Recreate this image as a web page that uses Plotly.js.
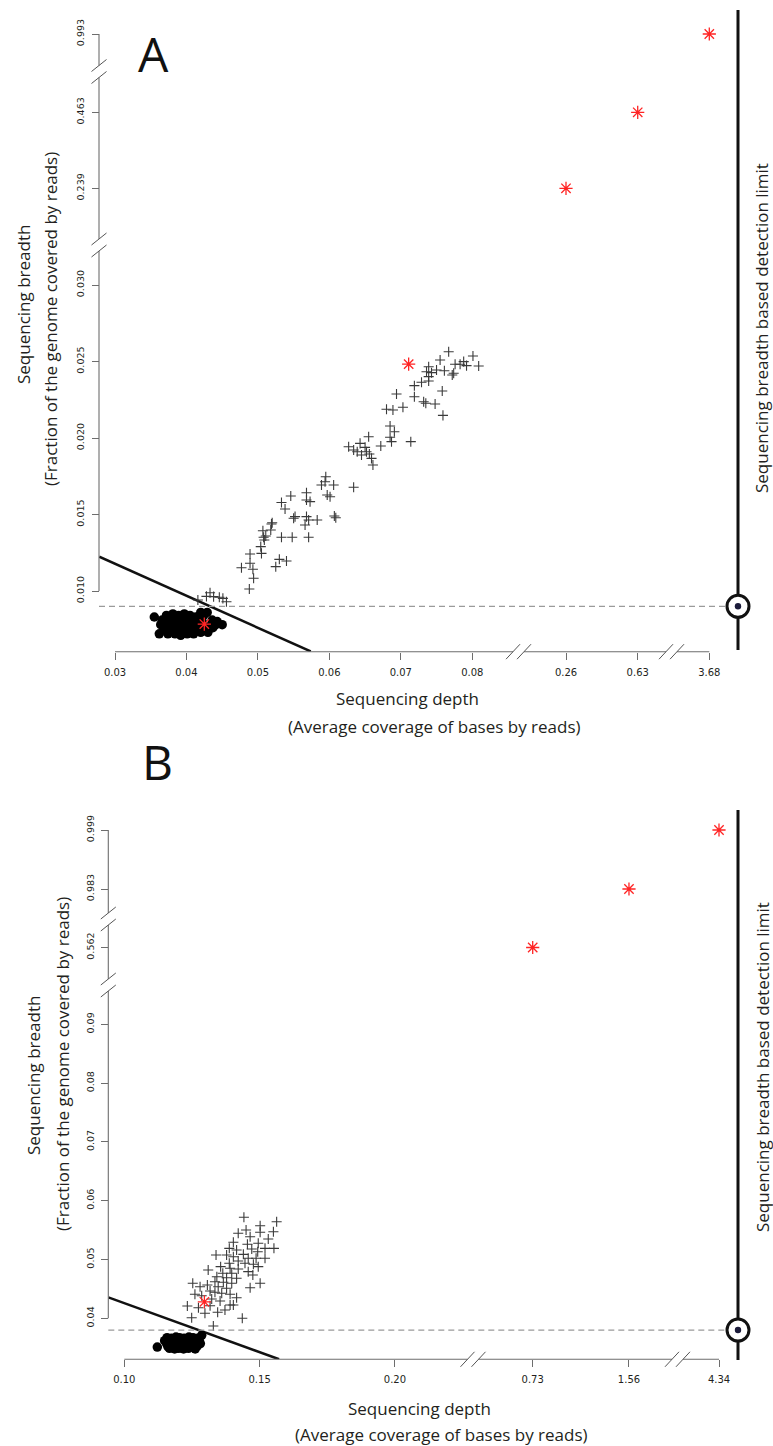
<!DOCTYPE html>
<html><head><meta charset="utf-8">
<script src="https://cdn.plot.ly/plotly-3.0.1.min.js"></script>
<style>html,body{margin:0;padding:0;background:#fff}#chart{width:773px;height:1446px}</style>
</head><body><div id="chart"></div>
<script>
// ================= DATA =================
// Panel A
const A_circle_x = [0.0355,0.0362,0.0450,0.0429,
  0.0372,0.0381,0.0389,0.0397,0.0405,0.0413,0.0424,0.0420,
  0.0366,0.0375,0.0383,0.0391,0.0399,0.0407,0.0415,0.0422,0.0436,0.0443,
  0.0364,0.0372,0.0380,0.0388,0.0395,0.0403,0.0411,0.0419,0.0433,0.0441,
  0.0369,0.0377,0.0385,0.0393,0.0400,0.0408,0.0416,0.0427,0.0437,
  0.0374,0.0384,0.0392,0.0401,0.0410,0.0420,0.0430];
const A_circle_y = [0.0083,0.0072,0.0078,0.0086,
  0.0084,0.0085,0.0084,0.0085,0.0084,0.0083,0.0084,0.0086,
  0.0081,0.0080,0.0082,0.0081,0.0080,0.0081,0.0082,0.0080,0.0081,0.0080,
  0.0078,0.0077,0.0078,0.0079,0.0077,0.0078,0.0077,0.0078,0.0077,0.0078,
  0.0075,0.0074,0.0075,0.0076,0.0074,0.0075,0.0074,0.0075,0.0076,
  0.0072,0.0072,0.0071,0.0072,0.0072,0.0073,0.0073];
const A_cross_x = [0.0767,0.0801,0.0755,0.0788,0.0776,0.0783,0.0792,0.0809,0.0739,0.0750,
  0.0761,0.0736,0.0743,0.0774,0.0772,0.0739,0.0729,0.0739,0.0719,0.0758,
  0.0694,0.0719,0.0732,0.0735,0.0748,0.0703,0.0680,0.0689,0.0759,0.0685,
  0.0691,0.0655,0.0685,0.0687,0.0714,0.0643,0.0627,0.0672,0.0650,0.0634,
  0.0639,0.0652,0.0645,0.0656,0.0659,0.0661,0.0595,0.0589,0.0606,0.0634,
  0.0594,0.0597,0.0601,0.0568,0.0568,0.0573,0.0546,0.0533,0.0538,0.0552,
  0.0550,0.0568,0.0571,0.0583,0.0607,0.0609,0.0520,0.0518,0.0507,0.0508,
  0.0533,0.0548,0.0571,0.0504,0.0505,0.0489,0.0489,0.0477,0.0493,0.0494,
  0.0488,0.0530,0.0540,0.0525,0.0509,0.0511,0.0519,0.0566,
  0.0416,0.0428,0.0433,0.0438,0.0446,0.0451,0.0456];
const A_cross_y = [0.02564,0.02536,0.02510,0.02499,0.02482,0.02482,0.02473,0.02471,0.02466,0.02444,
  0.02440,0.02433,0.02427,0.02423,0.02412,0.02401,0.02364,0.02373,0.02342,0.02307,
  0.02288,0.02270,0.02237,0.02227,0.02222,0.02201,0.02188,0.02183,0.02148,0.02078,
  0.02041,0.02008,0.02005,0.01976,0.01976,0.01965,0.01943,0.01948,0.01939,0.01922,
  0.01910,0.01910,0.01889,0.01895,0.01867,0.01824,0.01747,0.01693,0.01693,0.01678,
  0.01714,0.01627,0.01616,0.01642,0.01595,0.01584,0.01621,0.01578,0.01536,0.01486,
  0.01475,0.01486,0.01464,0.01464,0.01490,0.01479,0.01446,0.01399,0.01394,0.01351,
  0.01351,0.01351,0.01351,0.01290,0.01246,0.01242,0.01181,0.01152,0.01142,0.01083,
  0.01013,0.01207,0.01196,0.01159,0.01333,0.01359,0.01438,0.01431,
  0.00941,0.00965,0.00989,0.00963,0.00959,0.00952,0.00930];
const A_star_x = [0.0425, 0.0711, 0.26, 0.63, 3.68];
const A_star_y = [0.00784, 0.02483, 0.239, 0.463, 0.993];
const A_fit_x = [0.0278, 0.0574];
const A_fit_y = [0.01224, 0.00605];
const A_limit = 0.009;
const A_xticks = [[0.03,0.04,0.05,0.06,0.07,0.08],[0.26,0.63],[3.68]];
const A_yticks = [[0.010,0.015,0.020,0.025,0.030],[0.239,0.463],[0.993]];

// Panel B
const B_circle_x = [0.1122,0.1286,
  0.1158,0.1174,0.1191,0.1204,0.1221,0.1239,0.1254,0.1271,
  0.1149,0.1166,0.1181,0.1195,0.1213,0.1227,0.1245,0.1259,0.1277,
  0.1156,0.1170,0.1187,0.1202,0.1216,0.1234,0.1249,0.1266,0.1281,
  0.1161,0.1177,0.1193,0.1207,0.1225,0.1241,0.1257,0.1270,
  0.1167,0.1186,0.1201,0.1219,0.1237,0.1262];
const B_circle_y = [0.0351,0.0371,
  0.0367,0.0366,0.0368,0.0367,0.0366,0.0368,0.0367,0.0366,
  0.0362,0.0361,0.0363,0.0362,0.0361,0.0362,0.0363,0.0361,0.0362,
  0.0357,0.0356,0.0358,0.0357,0.0356,0.0357,0.0358,0.0356,0.0357,
  0.0352,0.0353,0.0351,0.0352,0.0353,0.0352,0.0351,0.0353,
  0.0349,0.0348,0.0349,0.0348,0.0349,0.0348];
const B_cross_x = [0.1442,0.1563,0.1502,0.1450,0.1421,0.1502,0.1551,0.1465,0.1532,0.1403,
  0.1455,0.1495,0.1520,0.1553,0.1388,0.1415,0.1471,0.1493,0.1440,0.1339,
  0.1378,0.1403,0.1458,0.1487,0.1520,0.1421,0.1388,0.1446,0.1477,0.1356,
  0.1495,0.1391,0.1421,0.1310,0.1458,0.1364,0.1397,0.1475,0.1342,0.1378,
  0.1415,0.1335,0.1366,0.1397,0.1253,0.1307,0.1502,0.1280,0.1347,0.1465,
  0.1378,0.1317,0.1335,0.1261,0.1360,0.1391,0.1286,0.1415,0.1323,0.1354,
  0.1391,0.1233,0.1274,0.1372,0.1403,0.1317,0.1345,0.1298,0.1249,0.1436,0.1329];
const B_cross_y = [0.05718,0.05643,0.05575,0.05502,0.05446,0.05463,0.05473,0.05388,0.05349,0.05293,
  0.05259,0.05276,0.05190,0.05190,0.05190,0.05162,0.05179,0.05133,0.05088,0.05077,
  0.05077,0.05048,0.05020,0.05020,0.05020,0.04974,0.04935,0.04935,0.04918,0.04878,
  0.04878,0.04850,0.04838,0.04821,0.04793,0.04765,0.04765,0.04736,0.04707,0.04690,
  0.04680,0.04622,0.04612,0.04595,0.04595,0.04566,0.04595,0.04537,0.04537,0.04520,
  0.04510,0.04464,0.04442,0.04408,0.04425,0.04408,0.04384,0.04350,0.04328,0.04294,
  0.04226,0.04209,0.04180,0.04141,0.04226,0.04214,0.04102,0.04085,0.04010,0.04000,0.03869];
const B_star_x = [0.1296, 0.73, 1.56, 4.34];
const B_star_y = [0.0428, 0.562, 0.983, 0.999];
const B_fit_x = [0.0941, 0.1572];
const B_fit_y = [0.04357, 0.03303];
const B_limit = 0.038;
const B_xticks = [[0.10,0.15,0.20],[0.73,1.56],[4.34]];
const B_yticks = [[0.04,0.05,0.06,0.07,0.08,0.09],[0.562],[0.983,0.999]];

// Text
const LBL_Y1 = "Sequencing breadth";
const LBL_Y2 = "(Fraction of the genome covered by reads)";
const LBL_X1 = "Sequencing depth";
const LBL_X2 = "(Average coverage of bases by reads)";
const LBL_R = "Sequencing breadth based detection limit";

// ================= LAYOUT GEOMETRY (pixels) =================
const W = 773, H = 1446;
const panels = [
  { letter:"A", letterPos:[153,54], axOff:0,
    yAxisPx:99, xAxisPx:651.7,
    xsegs:[{a:99,b:518.5,v:0.03,p:115,ppu:7145},{a:518.5,b:671.5,v:0.26,p:566,ppu:193.8},{a:671.5,b:728,v:3.68,p:709.3,ppu:100}],
    ysegs:[{a:651.7,b:245,v:0.010,p:591,ppu:15300},{a:245,b:71.5,v:0.239,p:188.3,ppu:339.3},{a:71.5,b:0,v:0.993,p:34,ppu:10000}],
    xticks:A_xticks, yticks:A_yticks, xdec:[2,2,2], ydec:[3,3,3],
    circ:[A_circle_x,A_circle_y], cross:[A_cross_x,A_cross_y], star:[A_star_x,A_star_y], fit:[A_fit_x,A_fit_y], limit:A_limit,
    vline:[10,650], ringX:738,
    ytitle:[[23,305],[50,319]], xtitle:[[407,698],[434,726]], rtext:[762,328] },
  { letter:"B", letterPos:[157,761], axOff:3,
    yAxisPx:108.3, xAxisPx:1359.3,
    xsegs:[{a:108.3,b:473,v:0.10,p:124.3,ppu:2706},{a:473,b:677.5,v:0.73,p:532.7,ppu:116.0},{a:677.5,b:728,v:4.34,p:719,ppu:100}],
    ysegs:[{a:1359.3,b:985,v:0.04,p:1318.3,ppu:5880},{a:985,b:919,v:0.562,p:947.5,ppu:1000},{a:919,b:795,v:0.983,p:889,ppu:3687.5}],
    xticks:B_xticks, yticks:B_yticks, xdec:[2,2,2], ydec:[2,3,3],
    circ:[B_circle_x,B_circle_y], cross:[B_cross_x,B_cross_y], star:[B_star_x,B_star_y], fit:[B_fit_x,B_fit_y], limit:B_limit,
    vline:[810,1360], ringX:738,
    ytitle:[[33,1076],[62,1064]], xtitle:[[419,1408],[441,1434]], rtext:[762,1067] }
];

const px2x = p => p / W;
const px2y = p => 1 - p / H;
const TXT = '#231f20', AXC = '#6d6d6d';
const XTICKFONT = {family:'DejaVu Sans, Verdana, sans-serif', size:10, color:'#231f20'};
const YTICKFONT = {family:'DejaVu Sans, Verdana, sans-serif', size:9.5, color:'#231f20'};
const TITLEFONT = {family:'Open Sans, Noto Sans, sans-serif', size:17, color:TXT};

const layout = {
  width:W, height:H, margin:{l:0,r:0,t:0,b:0}, showlegend:false, hovermode:false,
  paper_bgcolor:'#fff', plot_bgcolor:'rgba(0,0,0,0)', shapes:[], annotations:[]
};
const traces = [];

function xRange(s){ return [s.v + (s.a - s.p)/s.ppu, s.v + (s.b - s.p)/s.ppu]; }
function yRange(s){ return [s.v - (s.a - s.p)/s.ppu, s.v + (s.p - s.b)/s.ppu]; }
function xPx(s, v){ return s.p + (v - s.v)*s.ppu; }
function yPx(s, v){ return s.p - (v - s.v)*s.ppu; }
function axId(letter, n){ return n === 1 ? letter : letter + n; }
function axKey(letter, n){ return n === 1 ? letter+'axis' : letter+'axis'+n; }
function findSeg(segs, v, rf){
  for (let i=0;i<segs.length;i++){ const r = rf(segs[i]); if (v >= Math.min(r[0],r[1]) && v <= Math.max(r[0],r[1])) return i; }
  return -1;
}
function addSeries(P, xs, ys, base){
  const groups = {};
  xs.forEach((x,k)=>{
    const xi = findSeg(P.xsegs, x, xRange), yi = findSeg(P.ysegs, ys[k], yRange);
    if (xi<0 || yi<0) return;
    const key = xi+'_'+yi;
    (groups[key] = groups[key] || {xi, yi, x:[], y:[]});
    groups[key].x.push(x); groups[key].y.push(ys[k]);
  });
  Object.values(groups).forEach(g=>{
    traces.push(Object.assign({type:'scatter', x:g.x, y:g.y,
      xaxis:axId('x', P.axOff+g.xi+1), yaxis:axId('y', P.axOff+g.yi+1), cliponaxis:false, hoverinfo:'skip'}, base));
  });
}
function line(x0,y0,x1,y1,color,width,dash){
  layout.shapes.push({type:'line', xref:'paper', yref:'paper', x0:px2x(x0), y0:px2y(y0), x1:px2x(x1), y1:px2y(y1),
    line:{color, width, dash:dash||'solid'}});
}
function ann(text, xpx, ypx, font, angle){
  layout.annotations.push({text, x:px2x(xpx), y:px2y(ypx), xref:'paper', yref:'paper', showarrow:false,
    xanchor:'center', yanchor:'middle', textangle:angle||0, font});
}

panels.forEach(P=>{
  // axes
  P.xsegs.forEach((s,i)=>{
    layout[axKey('x', P.axOff+i+1)] = {
      domain:[px2x(s.a), px2x(s.b)], range:xRange(s), autorange:false,
      anchor:'free', position:px2y(P.xAxisPx),
      tickmode:'array', tickvals:P.xticks[i], ticktext:P.xticks[i].map(v=>v.toFixed(P.xdec[i])),
      ticks:'outside', ticklen:7, tickwidth:1, tickcolor:AXC, ticklabelstandoff:4,
      showline:false, showgrid:false, zeroline:false, tickfont:XTICKFONT, fixedrange:true
    };
  });
  P.ysegs.forEach((s,i)=>{
    layout[axKey('y', P.axOff+i+1)] = {
      domain:[px2y(s.a), px2y(s.b)], range:yRange(s), autorange:false,
      anchor:'free', position:px2x(P.yAxisPx),
      tickmode:'array', tickvals:P.yticks[i], ticktext:P.yticks[i].map(v=>v.toFixed(P.ydec[i])),
      ticks:'outside', ticklen:7, tickwidth:1, tickcolor:AXC, tickangle:-90, ticklabelstandoff:4,
      showline:false, showgrid:false, zeroline:false, tickfont:YTICKFONT, fixedrange:true
    };
  });

  // axis lines (from first to last tick), with breaks
  const xs0 = P.xsegs[0], xsN = P.xsegs[P.xsegs.length-1];
  const xStart = xPx(xs0, P.xticks[0][0]);
  const xEnd = xPx(xsN, P.xticks[P.xticks.length-1].slice(-1)[0]);
  line(xStart, P.xAxisPx, xEnd, P.xAxisPx, AXC, 1.1);
  const ys0 = P.ysegs[0], ysN = P.ysegs[P.ysegs.length-1];
  const yStart = yPx(ys0, P.yticks[0][0]);
  const yEnd = yPx(ysN, P.yticks[P.yticks.length-1].slice(-1)[0]);
  line(P.yAxisPx, yStart, P.yAxisPx, yEnd, AXC, 1.1);
  for (let i=0;i<P.xsegs.length-1;i++){
    const c = P.xsegs[i].b, Y = P.xAxisPx;
    line(c-5.5, Y, c+5.5, Y, '#ffffff', 3);
    [c-5.5, c+5.5].forEach(cc=> line(cc-7, Y+7.5, cc+7, Y-7.5, '#555', 1));
  }
  for (let i=0;i<P.ysegs.length-1;i++){
    const c = P.ysegs[i].b, X = P.yAxisPx;
    line(X, c-6, X, c+6, '#ffffff', 3);
    [c-6, c+6].forEach(cc=> line(X-7.5, cc+6, X+7.5, cc-6, '#555', 1));
  }

  // detection limit dashed line (data y on first y segment)
  const y1 = axId('y', P.axOff+1);
  layout.shapes.push({type:'line', xref:'paper', yref:y1, x0:px2x(P.yAxisPx), x1:px2x(P.ringX), y0:P.limit, y1:P.limit,
    line:{color:'#9a9a9a', width:1.2, dash:'6px,4px'}});
  // right vertical line
  line(P.ringX, P.vline[0], P.ringX, P.vline[1], '#111', 3);
  // ring marker at the limit
  layout.shapes.push({type:'circle', xref:'paper', yref:y1, xsizemode:'pixel', ysizemode:'pixel',
    xanchor:px2x(P.ringX), yanchor:P.limit, x0:-11, x1:11, y0:-11, y1:11,
    line:{color:'#111', width:3}, fillcolor:'#ffffff'});
  layout.shapes.push({type:'circle', xref:'paper', yref:y1, xsizemode:'pixel', ysizemode:'pixel',
    xanchor:px2x(P.ringX), yanchor:P.limit, x0:-3.2, x1:3.2, y0:-3.2, y1:3.2,
    line:{color:'#1b1b3a', width:0}, fillcolor:'#1b1b3a'});

  // data
  addSeries(P, P.fit[0], P.fit[1], {mode:'lines', line:{color:'#111', width:2.5}});
  addSeries(P, P.circ[0], P.circ[1], {mode:'markers', marker:{symbol:'circle', size:9.5, color:'#000', line:{width:0}}});
  addSeries(P, P.cross[0], P.cross[1], {mode:'markers', marker:{symbol:'cross-thin-open', size:7.2, color:'#3a3a3a', line:{color:'#3a3a3a', width:1.1}}});
  addSeries(P, P.star[0], P.star[1], {mode:'markers', marker:{symbol:'asterisk-open', size:11, color:'#ff2424', line:{color:'#ff2424', width:1.3}}});

  // texts
  ann(P.letter, P.letterPos[0], P.letterPos[1], {family:'Open Sans, Noto Sans, sans-serif', size:48, color:'#111'});
  ann(LBL_Y1, P.ytitle[0][0], P.ytitle[0][1], TITLEFONT, -90);
  ann(LBL_Y2, P.ytitle[1][0], P.ytitle[1][1], TITLEFONT, -90);
  ann(LBL_X1, P.xtitle[0][0], P.xtitle[0][1], TITLEFONT, 0);
  ann(LBL_X2, P.xtitle[1][0], P.xtitle[1][1], TITLEFONT, 0);
  ann(LBL_R, P.rtext[0], P.rtext[1], TITLEFONT, -90);
});

Plotly.newPlot('chart', traces, layout, {displayModeBar:false, staticPlot:true});
</script>
</body></html>
